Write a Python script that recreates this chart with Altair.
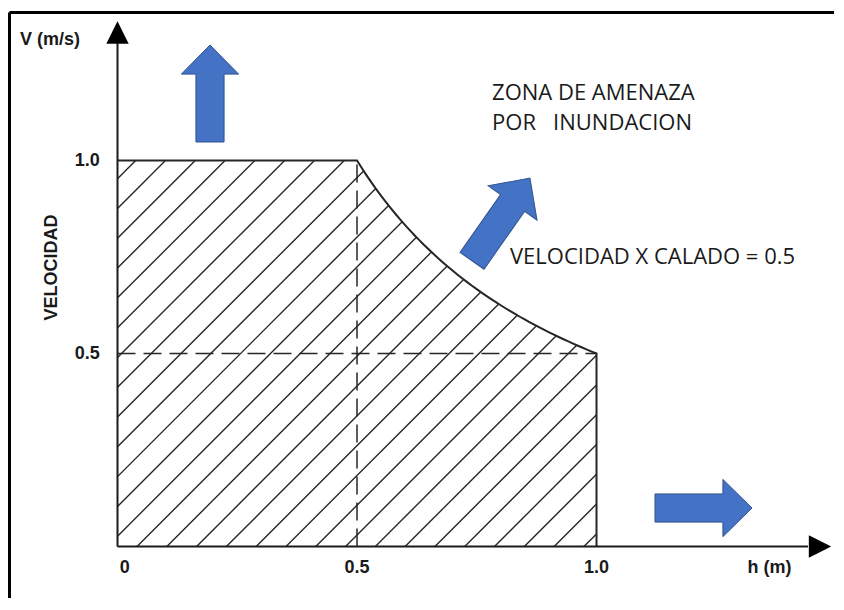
import altair as alt
import pandas as pd
import numpy as np

# ---------------- data ----------------
VH_PRODUCT = 0.5          # velocidad x calado = 0.5
V_MAX = 1.0               # velocity limit (m/s)
H_MAX = 1.0               # depth limit (m)
H_KNEE = 0.5              # where the curve starts

X_TICK_VALUES = [0.015, 0.5, 1.0]
X_TICK_LABELS = ["0", "0.5", "1.0"]
Y_TICK_VALUES = [0.5, 1.0]
Y_TICK_LABELS = ["0.5", "1.0"]

X_TITLE = "h (m)"
Y_TITLE = "V (m/s)"
Y_SIDE_TITLE = "VELOCIDAD"
ZONE_LINES = ["ZONA DE AMENAZA", "POR\u00a0\u00a0\u00a0INUNDACION"]
CURVE_LABEL = "VELOCIDAD X CALADO = 0.5"

# ---------------- layout (data units) ----------------
W, H = 826, 590
X_DOMAIN = [-0.2286, 1.4958]
Y_DOMAIN = [-0.1334, 1.3951]
PX_X = W / (X_DOMAIN[1] - X_DOMAIN[0])
PX_Y = H / (Y_DOMAIN[1] - Y_DOMAIN[0])

xs = alt.Scale(domain=X_DOMAIN, nice=False, zero=False)
ys = alt.Scale(domain=Y_DOMAIN, nice=False, zero=False)
X = lambda f="x": alt.X(f"{f}:Q", scale=xs, axis=None)
Y = lambda f="y": alt.Y(f"{f}:Q", scale=ys, axis=None)

INK = "#262626"

# ---------------- boundary of the hazard region ----------------
def upper(h):
    return V_MAX if h <= H_KNEE else VH_PRODUCT / h

curve_h = list(np.linspace(H_KNEE, H_MAX, 51))
bx = [0.0] + curve_h + [H_MAX]
by = [V_MAX] + [VH_PRODUCT / h for h in curve_h] + [0.0]
boundary = pd.DataFrame({"x": bx, "y": by, "o": range(len(bx))})

# ---------------- hatch (45 deg on screen) ----------------
slope = PX_X / PX_Y
HATCH_START, HATCH_STEP = 0.0407, 0.0622
rows = []
for k in range(-13, 16):
    c = HATCH_START + k * HATCH_STEP
    x0 = max(c, 0.0)
    y0 = slope * (x0 - c)
    if y0 >= upper(x0) or x0 >= H_MAX:
        continue
    if slope * (H_MAX - c) <= upper(H_MAX):
        x1 = H_MAX
    else:
        lo, hi = x0, H_MAX
        for _ in range(60):
            m = (lo + hi) / 2
            if slope * (m - c) < upper(m):
                lo = m
            else:
                hi = m
        x1 = lo
    rows.append({"x": x0, "y": y0, "x2": x1, "y2": slope * (x1 - c)})
hatch = pd.DataFrame(rows)

hatch_layer = alt.Chart(hatch).mark_rule(color=INK, strokeWidth=1.4).encode(
    x=X(), y=Y(), x2="x2:Q", y2="y2:Q")

outline = alt.Chart(boundary).mark_line(color=INK, strokeWidth=2).encode(
    x=X(), y=Y(), order="o:Q")

dashed = pd.DataFrame([
    {"x": 0.0, "y": VH_PRODUCT, "x2": H_MAX, "y2": VH_PRODUCT},
    {"x": H_KNEE, "y": 0.0, "x2": H_KNEE, "y2": V_MAX},
])
dash_layer = alt.Chart(dashed).mark_rule(color=INK, strokeWidth=1.5, strokeDash=[18, 8]).encode(
    x=X(), y=Y(), x2="x2:Q", y2="y2:Q")

# axes drawn as rules with arrow heads
axes_df = pd.DataFrame([
    {"x": 0.0, "y": 0.0, "x2": 1.4415, "y2": 0.0},
    {"x": 0.0, "y": 0.0, "x2": 0.0, "y2": 1.304},
])
axes_layer = alt.Chart(axes_df).mark_rule(color="#1a1a1a", strokeWidth=2).encode(
    x=X(), y=Y(), x2="x2:Q", y2="y2:Q")

TRI = "M0,-1 L1,1 L-1,1 Z"
heads = pd.DataFrame([
    {"x": 0.0, "y": 1.3316, "a": 0},
    {"x": 1.4666, "y": 0.0, "a": 90},
])
heads_layer = alt.Chart(heads).mark_point(
    shape=TRI, filled=True, color="#000000", size=500, opacity=1).encode(
    x=X(), y=Y(), angle=alt.Angle("a:Q", scale=None))

# frame
frame_df = pd.DataFrame([
    {"x": -0.2255, "y": Y_DOMAIN[0], "x2": -0.2255, "y2": 1.3834},
    {"x": -0.2255, "y": 1.3834, "x2": X_DOMAIN[1], "y2": 1.3834},
])
frame_layer = alt.Chart(frame_df).mark_rule(color="#000000", strokeWidth=3).encode(
    x=X(), y=Y(), x2="x2:Q", y2="y2:Q")

# blue block arrows
ARROW = "M0,-1 L0.59,-0.4 L0.29,-0.4 L0.29,1 L-0.29,1 L-0.29,-0.4 L-0.59,-0.4 Z"
arrows = pd.DataFrame([
    {"x": 0.1931, "y": 1.1736, "a": 0, "s": 97 ** 2},
    {"x": 0.8006, "y": 0.8472, "a": 35, "s": 101 ** 2},
    {"x": 1.2234, "y": 0.0997, "a": 90, "s": 97 ** 2},
])
arrow_layer = alt.Chart(arrows).mark_point(
    shape=ARROW, filled=True, fill="#4472C4", stroke="#2F528F", strokeWidth=1, opacity=1).encode(
    x=X(), y=Y(), angle=alt.Angle("a:Q", scale=None), size=alt.Size("s:Q", scale=None))

# tick labels
xt = pd.DataFrame({"x": X_TICK_VALUES, "y": [-0.0557] * 3, "t": X_TICK_LABELS})
yt = pd.DataFrame({"x": [-0.037] * 2, "y": Y_TICK_VALUES, "t": Y_TICK_LABELS})
bold = dict(font="Liberation Sans", fontWeight="bold", fontSize=18, color="#1a1a1a", baseline="middle")
xt_layer = alt.Chart(xt).mark_text(align="center", **bold).encode(x=X(), y=Y(), text="t:N")
yt_layer = alt.Chart(yt).mark_text(align="right", **bold).encode(x=X(), y=Y(), text="t:N")

titles = pd.DataFrame([
    {"x": 1.361, "y": -0.0557, "t": X_TITLE},
    {"x": -0.141, "y": 1.312, "t": Y_TITLE},
])
titles_layer = alt.Chart(titles).mark_text(align="center", **bold).encode(x=X(), y=Y(), text="t:N")
side = pd.DataFrame([{"x": -0.1367, "y": 0.7228, "t": Y_SIDE_TITLE}])
side_layer = alt.Chart(side).mark_text(align="center", angle=270, **bold).encode(
    x=X(), y=Y(), text="t:N")

notes = pd.DataFrame([
    {"x": 0.7819, "y": 1.1749, "t": ZONE_LINES[0]},
    {"x": 0.7819, "y": 1.0972, "t": ZONE_LINES[1]},
    {"x": 0.8194, "y": 0.7500, "t": CURVE_LABEL},
])
notes_layer = alt.Chart(notes).mark_text(
    align="left", baseline="middle", font="Open Sans", fontSize=22, color="#1a1a1a").encode(
    x=X(), y=Y(), text="t:N")

chart = alt.layer(
    frame_layer, hatch_layer, dash_layer, outline, axes_layer, heads_layer,
    arrow_layer, xt_layer, yt_layer, titles_layer, side_layer, notes_layer,
).properties(
    width=W, height=H, padding=0, autosize=alt.AutoSizeParams(type="none"),
    background="white",
).configure_view(stroke=None)

chart.save("out.html", embed_options={"renderer": "svg", "actions": False})
